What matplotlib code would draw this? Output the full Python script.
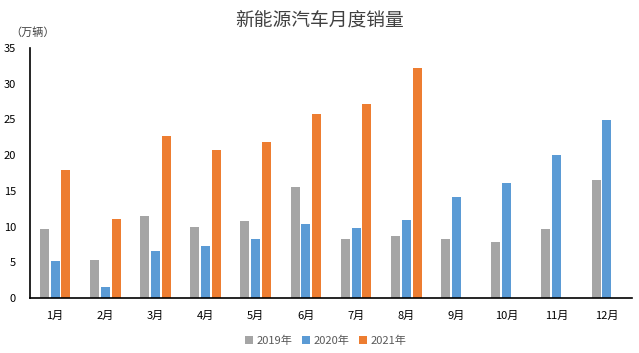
import numpy as np
from matplotlib import pyplot as plt

plt.rcParams['font.family'] = ['Noto Sans CJK SC', 'DejaVu Sans']

months = ['1月', '2月', '3月', '4月', '5月', '6月', '7月', '8月', '9月', '10月', '11月', '12月']
sales_2019 = [9.7, 5.3, 11.5, 9.9, 10.8, 15.5, 8.3, 8.7, 8.3, 7.8, 9.7, 16.5]
sales_2020 = [5.2, 1.5, 6.6, 7.3, 8.3, 10.4, 9.8, 10.9, 14.1, 16.1, 20.0, 24.9]
sales_2021 = [17.9, 11.1, 22.7, 20.7, 21.8, 25.7, 27.1, 32.2, np.nan, np.nan, np.nan, np.nan]
series_names = ['2019年', '2020年', '2021年']
colors = ['#A5A5A5', '#5B9BD5', '#ED7D31']

fig = plt.figure(figsize=(6.39, 3.53), dpi=100)
ax = fig.add_axes([30 / 639, 1 - 298 / 353, 602 / 639, 250 / 353])

x = np.arange(len(months))
width = 0.18
for i, (vals, name, c) in enumerate(zip([sales_2019, sales_2020, sales_2021], series_names, colors)):
    ax.bar(x + (i - 1) * 0.215, vals, width, color=c, label=name)

ax.set_xlim(-0.5, 11.5)
ax.set_ylim(0, 35)
ax.set_yticks(range(0, 36, 5))
ax.set_xticks(x)
ax.set_xticklabels(months)
ax.tick_params(axis='both', length=0, labelsize=8, colors='#000000')
ax.tick_params(axis='x', pad=9)
ax.tick_params(axis='y', pad=10)
for s in ['top', 'right']:
    ax.spines[s].set_visible(False)
for s in ['left', 'bottom']:
    ax.spines[s].set_linewidth(1.2)

fig.text(0.5, 1 - 20 / 353, '新能源汽车月度销量', ha='center', va='center', fontsize=13.5, color='#404040')
fig.text(10 / 639, 1 - 33 / 353, '（万辆）', ha='left', va='center', fontsize=8, color='#404040')

fig.legend(loc='center', bbox_to_anchor=(0.51, 1 - 341 / 353), ncol=3, frameon=False,
           fontsize=8, handlelength=0.7, handleheight=0.7, handletextpad=0.3, columnspacing=0.9,
           labelcolor='#595959')

fig.savefig('out.png', dpi=100)
